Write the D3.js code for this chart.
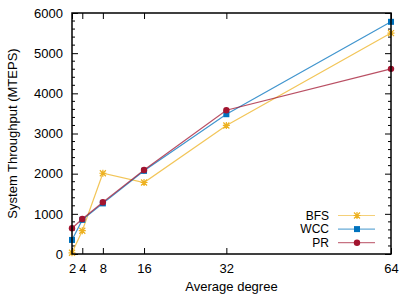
<!DOCTYPE html>
<html lang="en">
<head>
<meta charset="utf-8">
<title>Throughput</title>
<script src="https://d3js.org/d3.v7.min.js"></script>
<style>
  body { margin: 0; background: #fff; }
  text { font-family: "Liberation Sans", Arial, sans-serif; font-size: 13px; fill: #000; }
</style>
</head>
<body>
<svg width="415" height="297"></svg>
<script>
var degrees = [2, 4, 8, 16, 32, 64];
var bfs = [30, 580, 2010, 1780, 3200, 5500];
var wcc = [350, 850, 1260, 2070, 3480, 5780];
var pr  = [640, 870, 1290, 2090, 3580, 4610];
var yTicks = [0, 1000, 2000, 3000, 4000, 5000, 6000];

var series = [
    {name: "BFS", values: bfs, color: "#EDB120", marker: "star"},
    {name: "WCC", values: wcc, color: "#0072BD", marker: "square"},
    {name: "PR",  values: pr,  color: "#A2142F", marker: "circle"}
];

var marge = {top: 13, bottom: 43, left: 72, right: 24};
var svg = d3.select("svg");
var width = +svg.attr("width") - marge.left - marge.right;
var height = +svg.attr("height") - marge.top - marge.bottom;
var g = svg.append("g").attr("transform", "translate(" + marge.left + "," + marge.top + ")");

var xScale = d3.scaleLinear().domain([2, 64]).range([0, width]);
var yScale = d3.scaleLinear().domain([0, 6000]).range([height, 0]);

// minor ticks (inward, on both sides)
var minor = d3.range(0, 6001, 200).filter(function(v){ return v % 1000 !== 0; });
g.selectAll(".minorL").data(minor).enter().append("line")
    .attr("x1", 0).attr("x2", 3)
    .attr("y1", function(d){ return yScale(d); }).attr("y2", function(d){ return yScale(d); })
    .attr("stroke", "#000");
g.selectAll(".minorR").data(minor).enter().append("line")
    .attr("x1", width).attr("x2", width - 3)
    .attr("y1", function(d){ return yScale(d); }).attr("y2", function(d){ return yScale(d); })
    .attr("stroke", "#000");

var yAxis = d3.axisLeft(yScale).tickValues(yTicks).tickFormat(d3.format("d")).tickSizeInner(-6).tickSizeOuter(0).tickPadding(9);
var yAxisR = d3.axisRight(yScale).tickValues(yTicks).tickSizeInner(-6).tickSizeOuter(0).tickFormat("");
var xAxis = d3.axisBottom(xScale).tickValues(degrees).tickFormat(d3.format("d")).tickSizeInner(-6).tickSizeOuter(0).tickPadding(10);
var xAxisT = d3.axisTop(xScale).tickValues(degrees).tickSizeInner(-6).tickSizeOuter(0).tickFormat("");

function styleAxis(sel) {
    sel.select(".domain").remove();
    sel.selectAll("line").attr("stroke", "#000");
    sel.selectAll("text").style("font-size", "13px").style("font-family", "Liberation Sans, Arial, sans-serif").attr("fill", "#000");
}
g.append("g").call(yAxis).call(styleAxis);
g.append("g").attr("transform", "translate(" + width + ",0)").call(yAxisR).call(styleAxis);
g.append("g").attr("transform", "translate(0," + height + ")").call(xAxis).call(styleAxis);
g.append("g").call(xAxisT).call(styleAxis);

var line = d3.line()
    .x(function(d, i){ return xScale(degrees[i]); })
    .y(function(d){ return yScale(d); });

function drawMarker(sel, type, color) {
    if (type === "square") {
        sel.append("rect").attr("x", -3).attr("y", -3).attr("width", 6).attr("height", 6).attr("fill", color);
    } else if (type === "circle") {
        sel.append("circle").attr("r", 3.2).attr("fill", color);
    } else {
        var p = "M-3,-3L3,3M-3,3L3,-3M-3.5,0L3.5,0M0,-3.5L0,3.5";
        sel.append("path").attr("d", p).attr("stroke", color).attr("stroke-width", 1.2).attr("fill", "none");
    }
}

series.forEach(function(s) {
    g.append("path")
        .datum(s.values)
        .attr("d", line)
        .attr("fill", "none")
        .attr("stroke", s.color)
        .attr("stroke-opacity", 0.75)
        .attr("stroke-width", 1.2);
    g.selectAll(".m-" + s.name).data(s.values).enter().append("g")
        .attr("transform", function(d, i){ return "translate(" + xScale(degrees[i]) + "," + yScale(d) + ")"; })
        .each(function(){ drawMarker(d3.select(this), s.marker, s.color); });
});

// border
g.append("rect").attr("width", width).attr("height", height)
    .attr("fill", "none").attr("stroke", "#000").attr("stroke-width", 1.5);

// legend
var legend = g.append("g").attr("transform", "translate(" + (329 - marge.left) + "," + (215.5 - marge.top) + ")");
series.forEach(function(s, i) {
    var row = legend.append("g").attr("transform", "translate(0," + (i * 13.6) + ")");
    row.append("text").attr("text-anchor", "end").attr("dy", "0.36em")
        .style("font-size", "12px").text(s.name);
    row.append("line").attr("x1", 9).attr("x2", 46).attr("y1", 0).attr("y2", 0)
        .attr("stroke", s.color).attr("stroke-opacity", 0.6).attr("stroke-width", 1.2);
    var mk = row.append("g").attr("transform", "translate(28,0)");
    drawMarker(mk, s.marker, s.color);
});

// axis titles
svg.append("text").attr("x", marge.left + width / 2).attr("y", 291)
    .attr("text-anchor", "middle").text("Average degree");
svg.append("text")
    .attr("transform", "translate(17," + (marge.top + height / 2) + ") rotate(-90)")
    .attr("text-anchor", "middle").text("System Throughput (MTEPS)");
</script>
</body>
</html>
